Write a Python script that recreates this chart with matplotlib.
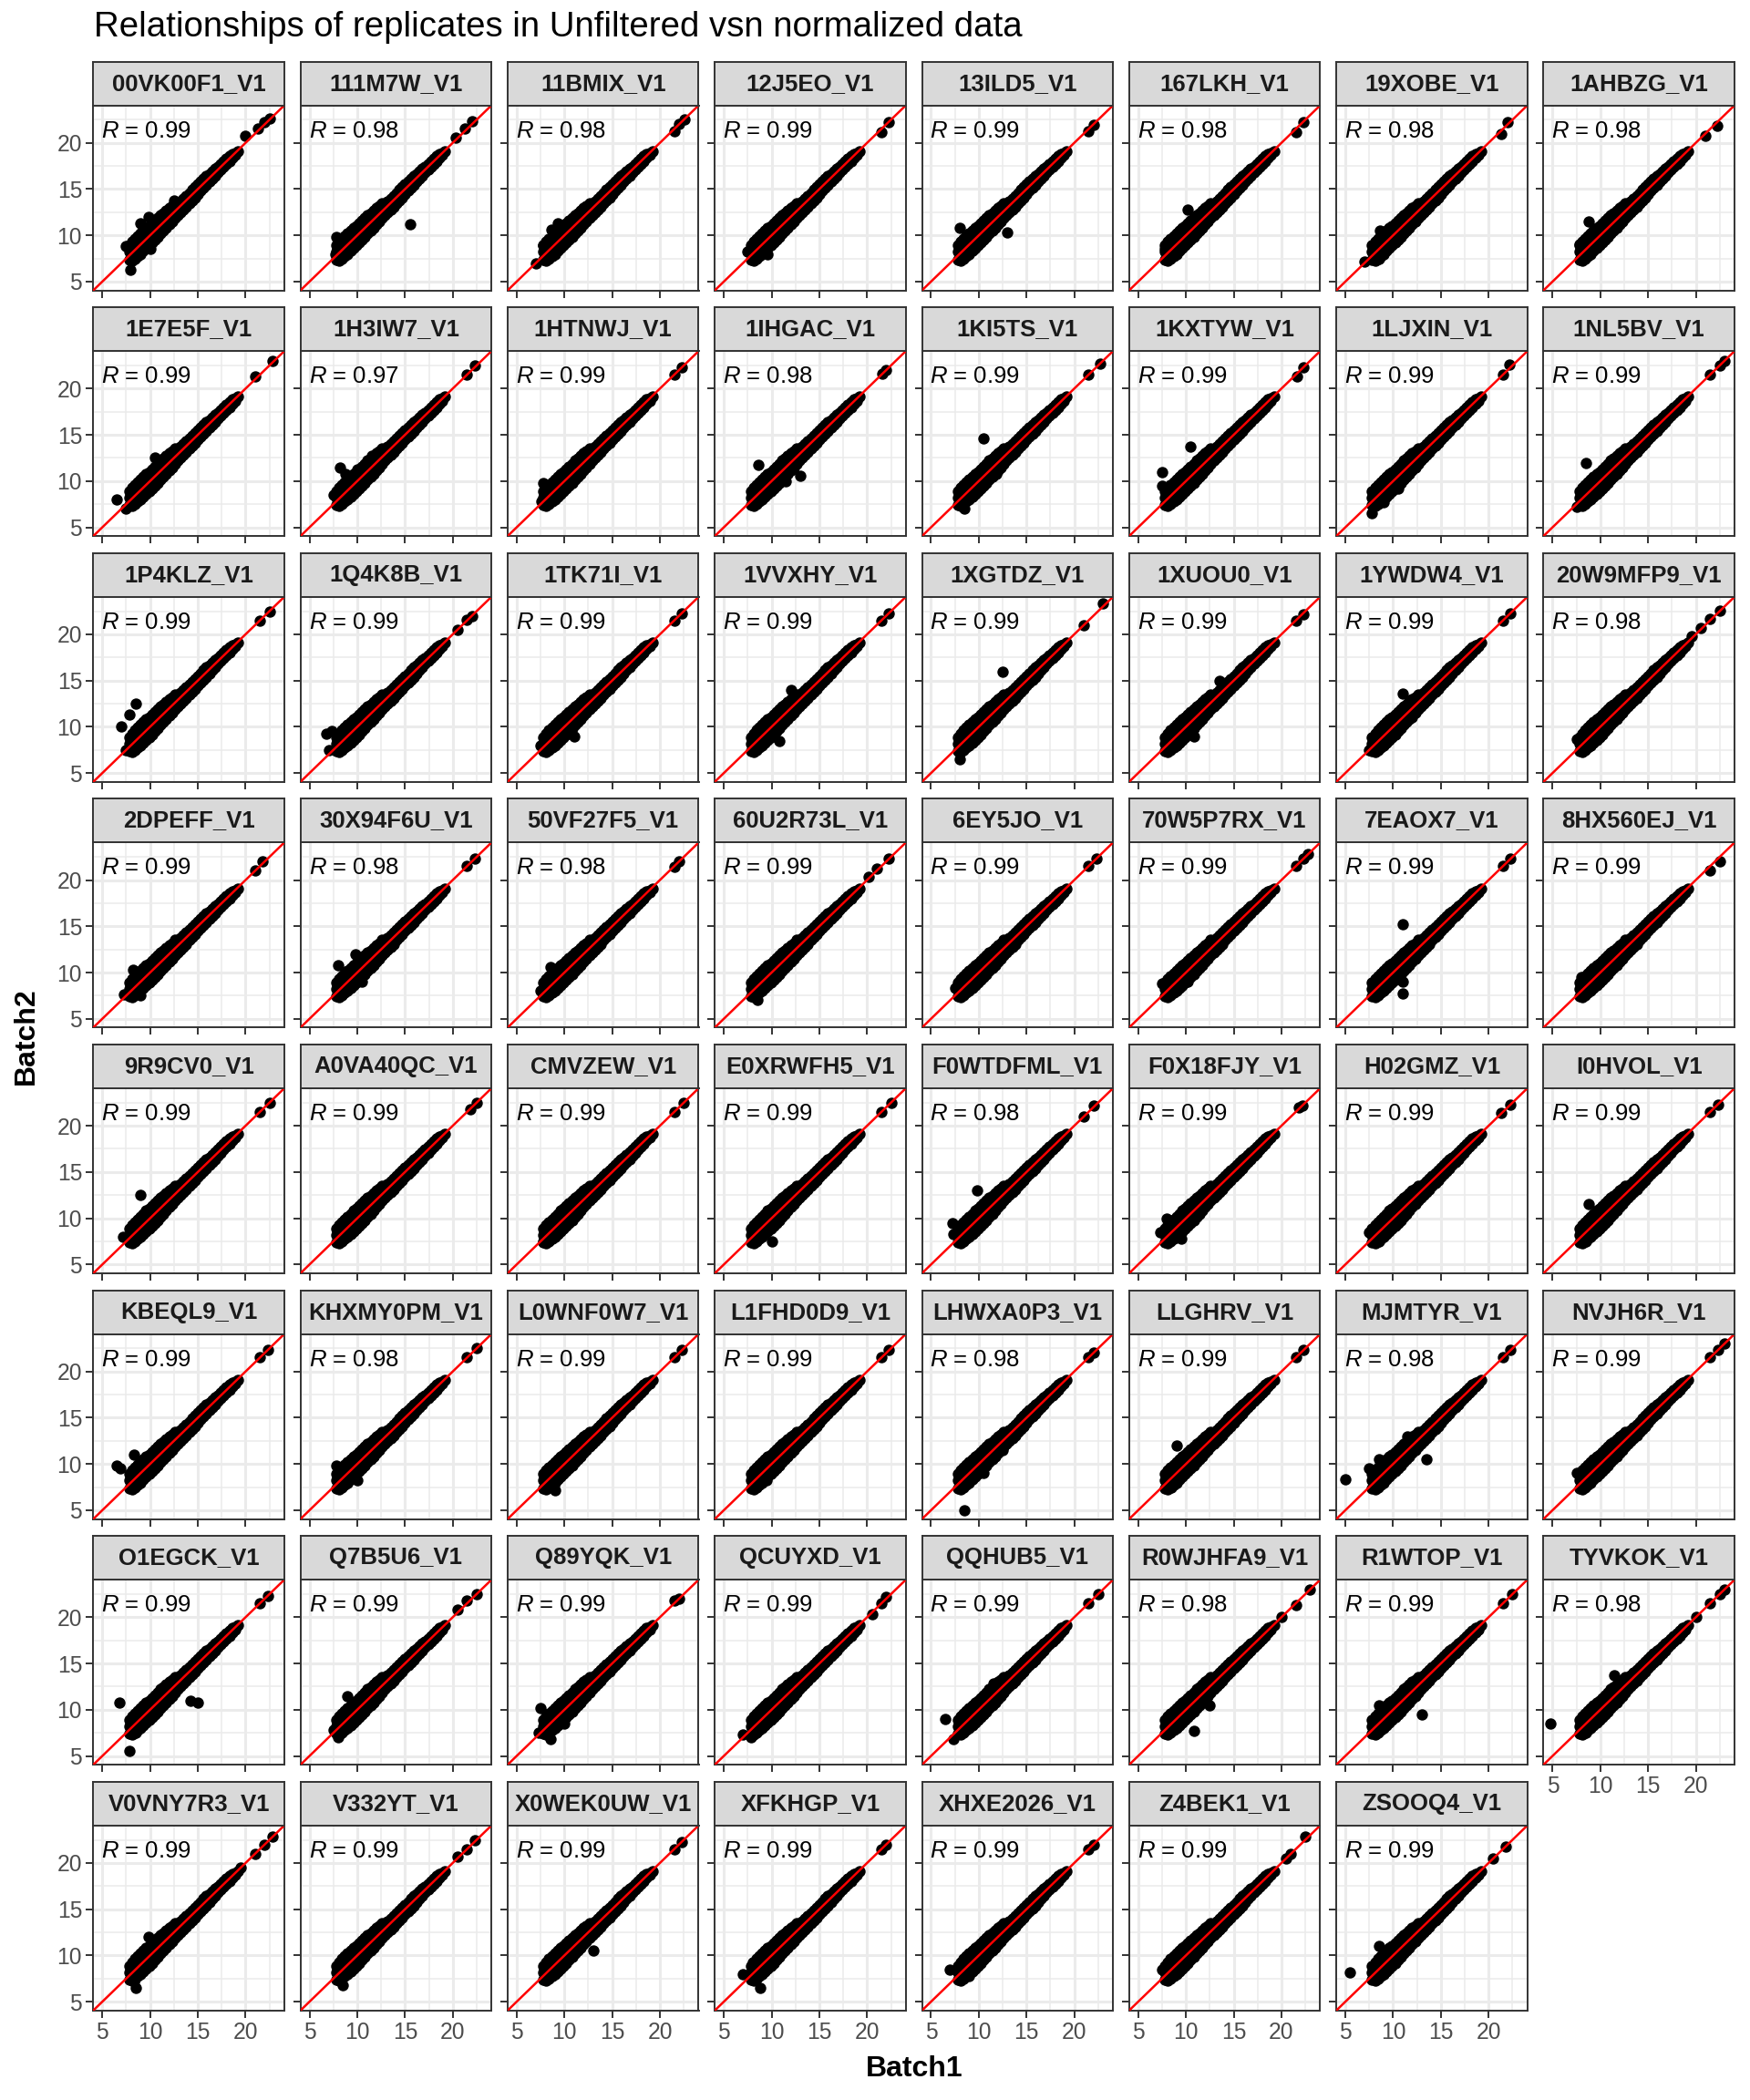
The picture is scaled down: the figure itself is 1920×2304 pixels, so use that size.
import matplotlib
matplotlib.use('Agg')
import matplotlib.pyplot as plt

#%% data
samples = ['00VK00F1_V1', '111M7W_V1', '11BMIX_V1', '12J5EO_V1', '13ILD5_V1', '167LKH_V1', '19XOBE_V1', '1AHBZG_V1',
           '1E7E5F_V1', '1H3IW7_V1', '1HTNWJ_V1', '1IHGAC_V1', '1KI5TS_V1', '1KXTYW_V1', '1LJXIN_V1', '1NL5BV_V1',
           '1P4KLZ_V1', '1Q4K8B_V1', '1TK71I_V1', '1VVXHY_V1', '1XGTDZ_V1', '1XUOU0_V1', '1YWDW4_V1', '20W9MFP9_V1',
           '2DPEFF_V1', '30X94F6U_V1', '50VF27F5_V1', '60U2R73L_V1', '6EY5JO_V1', '70W5P7RX_V1', '7EAOX7_V1', '8HX560EJ_V1',
           '9R9CV0_V1', 'A0VA40QC_V1', 'CMVZEW_V1', 'E0XRWFH5_V1', 'F0WTDFML_V1', 'F0X18FJY_V1', 'H02GMZ_V1', 'I0HVOL_V1',
           'KBEQL9_V1', 'KHXMY0PM_V1', 'L0WNF0W7_V1', 'L1FHD0D9_V1', 'LHWXA0P3_V1', 'LLGHRV_V1', 'MJMTYR_V1', 'NVJH6R_V1',
           'O1EGCK_V1', 'Q7B5U6_V1', 'Q89YQK_V1', 'QCUYXD_V1', 'QQHUB5_V1', 'R0WJHFA9_V1', 'R1WTOP_V1', 'TYVKOK_V1',
           'V0VNY7R3_V1', 'V332YT_V1', 'X0WEK0UW_V1', 'XFKHGP_V1', 'XHXE2026_V1', 'Z4BEK1_V1', 'ZSOOQ4_V1']

r_values = ['0.99', '0.98', '0.98', '0.99', '0.99', '0.98', '0.98', '0.98',
            '0.99', '0.97', '0.99', '0.98', '0.99', '0.99', '0.99', '0.99',
            '0.99', '0.99', '0.99', '0.99', '0.99', '0.99', '0.99', '0.98',
            '0.99', '0.98', '0.98', '0.99', '0.99', '0.99', '0.99', '0.99',
            '0.99', '0.99', '0.99', '0.99', '0.98', '0.99', '0.99', '0.99',
            '0.99', '0.98', '0.99', '0.99', '0.98', '0.99', '0.98', '0.99',
            '0.99', '0.99', '0.99', '0.99', '0.99', '0.98', '0.99', '0.98',
            '0.99', '0.99', '0.99', '0.99', '0.99', '0.99', '0.99']

# dense band shared by all replicates (Batch1, Batch2)
core_pts = [
    (7.8, 7.4), (7.8, 8.2), (7.8, 8.9),
    (8.1, 7.3), (8.1, 7.9), (8.1, 8.6), (8.1, 9.3),
    (8.4, 7.5), (8.4, 8.1), (8.4, 8.8), (8.4, 9.6),
    (8.7, 7.8), (8.7, 8.4), (8.7, 9.1), (8.7, 9.9),
    (9.0, 8.0), (9.0, 8.7), (9.0, 9.4), (9.0, 10.2),
    (9.3, 8.3), (9.3, 9.0), (9.3, 9.7), (9.3, 10.5),
    (9.6, 8.6), (9.6, 9.3), (9.6, 10.0), (9.6, 10.8),
    (9.9, 8.9), (9.9, 9.6), (9.9, 10.3), (9.9, 11.0),
    (10.2, 9.2), (10.2, 9.9), (10.2, 10.6), (10.2, 11.3),
    (10.5, 9.5), (10.5, 10.2), (10.5, 10.9), (10.5, 11.6),
    (10.8, 9.8), (10.8, 10.5), (10.8, 11.2), (10.8, 11.9),
    (11.1, 10.2), (11.1, 10.8), (11.1, 11.5), (11.1, 12.2),
    (11.4, 10.5), (11.4, 11.1), (11.4, 11.8), (11.4, 12.4),
    (11.7, 10.8), (11.7, 11.4), (11.7, 12.1), (11.7, 12.7),
    (12.0, 11.2), (12.0, 11.8), (12.0, 12.4), (12.0, 13.0),
    (12.3, 11.5), (12.3, 12.1), (12.3, 12.7), (12.3, 13.2),
    (12.6, 11.9), (12.6, 12.4), (12.6, 13.0), (12.6, 13.5),
    (12.9, 12.2), (12.9, 12.8), (12.9, 13.4),
    (13.2, 12.5), (13.2, 13.1), (13.2, 13.7),
    (13.5, 12.8), (13.5, 13.4), (13.5, 14.0),
    (13.8, 13.1), (13.8, 13.7), (13.8, 14.3),
    (14.1, 13.5), (14.1, 14.0), (14.1, 14.6),
    (14.4, 13.8), (14.4, 14.3), (14.4, 14.9),
    (14.7, 14.1), (14.7, 14.6), (14.7, 15.2),
    (15.0, 14.5), (15.0, 15.0), (15.0, 15.5),
    (15.3, 14.8), (15.3, 15.3), (15.3, 15.8),
    (15.6, 15.1), (15.6, 15.6), (15.6, 16.1),
    (15.9, 15.4), (15.9, 15.9), (15.9, 16.4),
    (16.2, 15.8), (16.2, 16.2), (16.2, 16.6),
    (16.5, 16.1), (16.5, 16.5), (16.5, 16.9),
    (16.8, 16.4), (16.8, 16.8), (16.8, 17.2),
    (17.1, 16.8), (17.1, 17.1), (17.1, 17.4),
    (17.4, 17.1), (17.4, 17.4), (17.4, 17.7),
    (17.7, 17.4), (17.7, 17.7), (17.7, 18.0),
    (18.0, 17.7), (18.0, 18.0), (18.0, 18.3),
    (18.3, 18.0), (18.3, 18.3), (18.3, 18.6),
    (18.6, 18.4), (18.6, 18.6), (18.6, 18.8),
    (18.9, 18.7), (18.9, 18.9), (19.2, 19.1),
]

# outliers and high-intensity points of each replicate
extra_pts = [
    # row 1
    [(7.5, 8.8), (7.9, 6.3), (9.0, 11.3), (9.8, 12.0), (12.5, 13.8), (10.0, 8.5), (20.0, 20.8), (21.3, 21.5), (22.0, 22.2), (22.5, 22.6)],
    [(7.8, 9.8), (7.7, 8.0), (15.5, 11.2), (8.5, 9.0), (20.3, 20.6), (21.3, 21.5), (22.0, 22.3)],
    [(7.0, 7.0), (7.8, 8.9), (8.6, 10.6), (9.3, 11.3), (21.5, 21.3), (22.0, 22.0), (22.6, 22.5)],
    [(7.5, 8.2), (8.3, 8.8), (9.6, 8.0), (21.5, 21.2), (22.3, 22.2)],
    [(8.0, 10.8), (13.0, 10.3), (9.5, 8.5), (21.5, 21.3), (22.0, 21.9)],
    [(10.2, 12.8), (7.8, 8.5), (21.5, 21.2), (22.3, 22.2)],
    [(7.0, 7.2), (8.5, 7.5), (8.6, 10.5), (21.3, 21.0), (22.0, 22.2)],
    [(7.8, 9.0), (8.8, 11.5), (8.8, 8.0), (21.0, 20.8), (22.2, 21.8)],
    # row 2
    [(6.5, 8.0), (7.5, 7.0), (10.5, 12.5), (21.0, 21.3), (22.8, 23.0)],
    [(8.2, 11.5), (7.5, 8.5), (11.5, 12.7), (8.8, 10.8), (10.0, 11.3), (21.5, 21.5), (22.3, 22.5)],
    [(7.8, 9.8), (7.6, 7.8), (21.5, 21.5), (22.3, 22.3)],
    [(8.6, 11.8), (13.0, 10.6), (11.5, 10.0), (12.0, 12.9), (8.0, 9.0), (21.6, 21.6), (22.0, 22.0)],
    [(10.5, 14.6), (11.8, 10.8), (8.5, 7.0), (21.5, 21.5), (22.7, 22.7)],
    [(7.5, 11.0), (10.5, 13.7), (7.5, 9.5), (21.6, 21.3), (22.3, 22.3)],
    [(7.8, 6.5), (10.5, 9.2), (9.0, 7.7), (21.5, 21.5), (22.2, 22.6)],
    [(8.5, 12.0), (7.5, 7.2), (21.5, 21.5), (22.5, 22.5), (23.0, 23.0)],
    # row 3
    [(7.0, 10.0), (7.8, 11.3), (8.5, 12.5), (7.5, 7.5), (21.5, 21.5), (22.5, 22.5)],
    [(6.8, 9.3), (7.0, 7.5), (7.3, 9.5), (20.5, 20.5), (21.5, 21.6), (22.0, 22.0)],
    [(11.0, 9.0), (7.5, 8.0), (21.5, 21.5), (22.3, 22.3)],
    [(10.8, 8.5), (8.5, 9.7), (12.0, 14.0), (21.5, 21.5), (22.3, 22.3)],
    [(8.0, 6.5), (12.5, 16.0), (21.0, 21.0), (23.0, 23.3)],
    [(10.8, 9.0), (13.5, 15.0), (21.5, 21.5), (22.3, 22.2)],
    [(7.5, 7.5), (11.0, 13.6), (12.0, 11.0), (21.5, 21.5), (22.3, 22.3)],
    [(7.5, 8.7), (9.0, 8.0), (12.5, 12.0), (19.6, 19.8), (20.5, 20.7), (21.5, 21.7), (22.5, 22.6)],
    # row 4
    [(8.2, 10.3), (9.0, 7.5), (7.3, 7.6), (21.0, 21.0), (21.8, 22.0)],
    [(8.0, 10.8), (9.8, 12.0), (10.5, 9.0), (21.5, 21.5), (22.3, 22.3)],
    [(7.5, 8.0), (8.5, 10.6), (21.5, 21.4), (22.0, 22.0)],
    [(8.5, 7.0), (20.2, 20.3), (21.0, 21.2), (22.3, 22.3)],
    [(7.5, 8.3), (21.5, 21.5), (22.3, 22.3)],
    [(7.5, 8.8), (9.5, 8.5), (10.2, 9.0), (12.0, 12.5), (21.5, 21.5), (22.3, 22.3), (22.8, 22.8)],
    [(11.0, 15.2), (11.0, 7.7), (11.0, 9.0), (11.3, 10.5), (21.5, 21.5), (22.3, 22.3)],
    [(8.0, 9.5), (21.5, 21.0), (22.5, 22.0)],
    # row 5
    [(9.0, 12.5), (7.2, 8.0), (8.0, 7.5), (21.5, 21.5), (22.5, 22.5)],
    [(8.0, 8.0), (21.8, 21.8), (22.5, 22.5)],
    [(7.8, 7.5), (21.5, 21.5), (22.5, 22.5)],
    [(10.0, 7.5), (21.5, 21.5), (22.5, 22.5)],
    [(9.8, 13.0), (7.2, 9.5), (7.3, 8.3), (21.0, 21.0), (22.0, 22.2)],
    [(7.3, 8.5), (9.5, 7.8), (8.0, 10.0), (21.8, 22.0), (22.2, 22.2)],
    [(8.5, 7.5), (7.5, 8.5), (21.3, 21.4), (22.3, 22.3)],
    [(8.8, 11.5), (8.5, 7.5), (12.0, 13.0), (21.5, 21.5), (22.3, 22.3)],
    # row 6
    [(6.5, 9.8), (6.9, 9.5), (8.3, 11.0), (21.5, 21.5), (22.3, 22.3)],
    [(7.8, 9.8), (10.0, 8.2), (9.0, 8.0), (21.5, 21.5), (22.5, 22.5)],
    [(9.0, 7.2), (21.5, 21.5), (22.3, 22.3)],
    [(9.5, 8.2), (8.0, 9.0), (21.5, 21.5), (22.3, 22.3)],
    [(8.5, 5.0), (11.0, 10.5), (12.5, 11.5), (10.5, 9.0), (21.5, 21.5), (22.0, 22.0)],
    [(9.0, 12.0), (8.5, 7.5), (21.5, 21.5), (22.3, 22.3)],
    [(5.0, 8.3), (11.5, 13.0), (7.5, 9.5), (8.5, 10.5), (13.5, 10.5), (21.5, 21.5), (22.3, 22.3)],
    [(7.5, 9.0), (8.5, 8.0), (21.5, 21.5), (22.3, 22.3), (23.0, 23.0)],
    # row 7
    [(6.8, 10.8), (7.8, 5.5), (14.2, 11.0), (15.0, 10.8), (8.5, 7.5), (21.5, 21.5), (22.3, 22.3)],
    [(9.0, 11.5), (7.5, 7.8), (8.0, 7.0), (20.5, 20.8), (21.5, 21.8), (22.5, 22.5)],
    [(7.5, 10.2), (7.3, 7.5), (8.5, 6.8), (10.0, 8.5), (21.5, 21.8), (22.0, 22.0)],
    [(7.0, 7.3), (7.8, 7.0), (20.5, 20.3), (21.5, 21.5), (22.0, 22.2)],
    [(6.5, 9.0), (7.3, 6.8), (11.5, 12.8), (21.5, 21.5), (22.5, 22.5)],
    [(10.8, 7.7), (12.5, 10.5), (20.0, 20.0), (21.5, 21.3), (23.0, 23.0)],
    [(8.5, 10.5), (13.0, 9.5), (11.5, 11.5), (21.5, 21.5), (22.5, 22.5)],
    [(4.8, 8.5), (11.5, 13.7), (8.5, 7.5), (20.0, 20.0), (21.5, 21.5), (22.5, 22.5), (23.0, 23.0)],
    # row 8
    [(8.5, 6.5), (8.3, 7.2), (9.8, 12.0), (19.5, 19.5), (21.0, 21.0), (22.0, 22.0), (22.8, 22.8)],
    [(8.5, 6.8), (20.5, 20.7), (21.5, 21.5), (22.3, 22.5)],
    [(13.0, 10.5), (21.5, 21.5), (22.3, 22.3)],
    [(7.0, 8.0), (8.8, 6.5), (8.0, 9.3), (21.5, 21.5), (22.0, 22.0)],
    [(11.5, 12.5), (9.0, 10.0), (7.0, 8.5), (9.0, 7.8), (21.5, 21.5), (22.0, 22.0)],
    [(7.5, 8.5), (8.5, 8.0), (20.5, 20.5), (21.0, 21.0), (22.5, 22.8)],
    [(5.5, 8.2), (8.5, 11.0), (9.0, 8.0), (20.5, 20.5), (21.8, 21.8)],
]

core_x = [p[0] for p in core_pts]
core_y = [p[1] for p in core_pts]

#%% plot
plt.rcParams['font.family'] = 'Liberation Sans'
plt.rcParams['mathtext.fontset'] = 'custom'
plt.rcParams['mathtext.it'] = 'Liberation Sans:italic'
plt.rcParams['mathtext.rm'] = 'Liberation Sans'

W, H = 1920, 2304
fig = plt.figure(figsize=(19.2, 23.04), dpi=100)

left0, colstep, pw = 102.3, 227.3, 209.6
top0, rowstep, strip_h, ph = 67.6, 269.6, 48, 203
lo, hi = 4.05, 24.05
ncol = 8
n = len(samples)

for i, name in enumerate(samples):
    r, c = divmod(i, ncol)
    x0 = left0 + c * colstep
    ptop = top0 + r * rowstep + strip_h
    ax = fig.add_axes([x0 / W, 1 - (ptop + ph) / H, pw / W, ph / H])
    sax = fig.add_axes([x0 / W, 1 - ptop / H, pw / W, strip_h / H])

    # strip
    sax.set_facecolor('#D9D9D9')
    sax.set_xticks([])
    sax.set_yticks([])
    for sp in sax.spines.values():
        sp.set_color('#333333')
        sp.set_linewidth(1.4)
    sax.text(0.5, 0.5, name, transform=sax.transAxes, ha='center', va='center',
             fontsize=18.5, fontweight='bold', color='#1A1A1A')

    # panel
    ax.set_axisbelow(True)
    ax.set_xlim(lo, hi)
    ax.set_ylim(lo, hi)
    ax.set_xticks([5, 10, 15, 20])
    ax.set_yticks([5, 10, 15, 20])
    ax.set_xticks([7.5, 12.5, 17.5, 22.5], minor=True)
    ax.set_yticks([7.5, 12.5, 17.5, 22.5], minor=True)
    ax.grid(which='major', color='#EBEBEB', linewidth=2.2)
    ax.grid(which='minor', color='#EBEBEB', linewidth=1.1)
    for sp in ax.spines.values():
        sp.set_color('#333333')
        sp.set_linewidth(1.4)
    ax.tick_params(which='major', length=5.8, width=1.4, color='#333333',
                   labelcolor='#4D4D4D', labelsize=17.7, pad=3)
    ax.tick_params(which='minor', length=0)

    show_x = (i + ncol >= n)
    show_y = (c == 0)
    ax.tick_params(axis='x', labelbottom=show_x)
    ax.tick_params(axis='y', labelleft=show_y)

    ex = [p[0] for p in extra_pts[i]]
    ey = [p[1] for p in extra_pts[i]]
    ax.scatter(core_x, core_y, s=80, c='black', linewidths=0, zorder=3)
    ax.scatter(ex, ey, s=80, c='black', linewidths=0, zorder=3)
    ax.axline((5, 5), slope=1, color='red', linewidth=1.8, zorder=4)
    ax.text(4.9, 21.3, r'$\mathit{R}$ = ' + r_values[i], ha='left', va='center',
            fontsize=18.5, color='black', zorder=5)

fig.text(103 / W, 1 - 40 / H, 'Relationships of replicates in Unfiltered vsn normalized data',
         fontsize=27.6, ha='left', va='baseline')
fig.text(29 / W, 1 - 1137 / H, 'Batch2', rotation=90, fontsize=23, fontweight='bold',
         ha='center', va='center')
fig.text(1002.7 / W, 1 - 2270 / H, 'Batch1', fontsize=23, fontweight='bold',
         ha='center', va='center')

plt.savefig('out.png', dpi=100)
